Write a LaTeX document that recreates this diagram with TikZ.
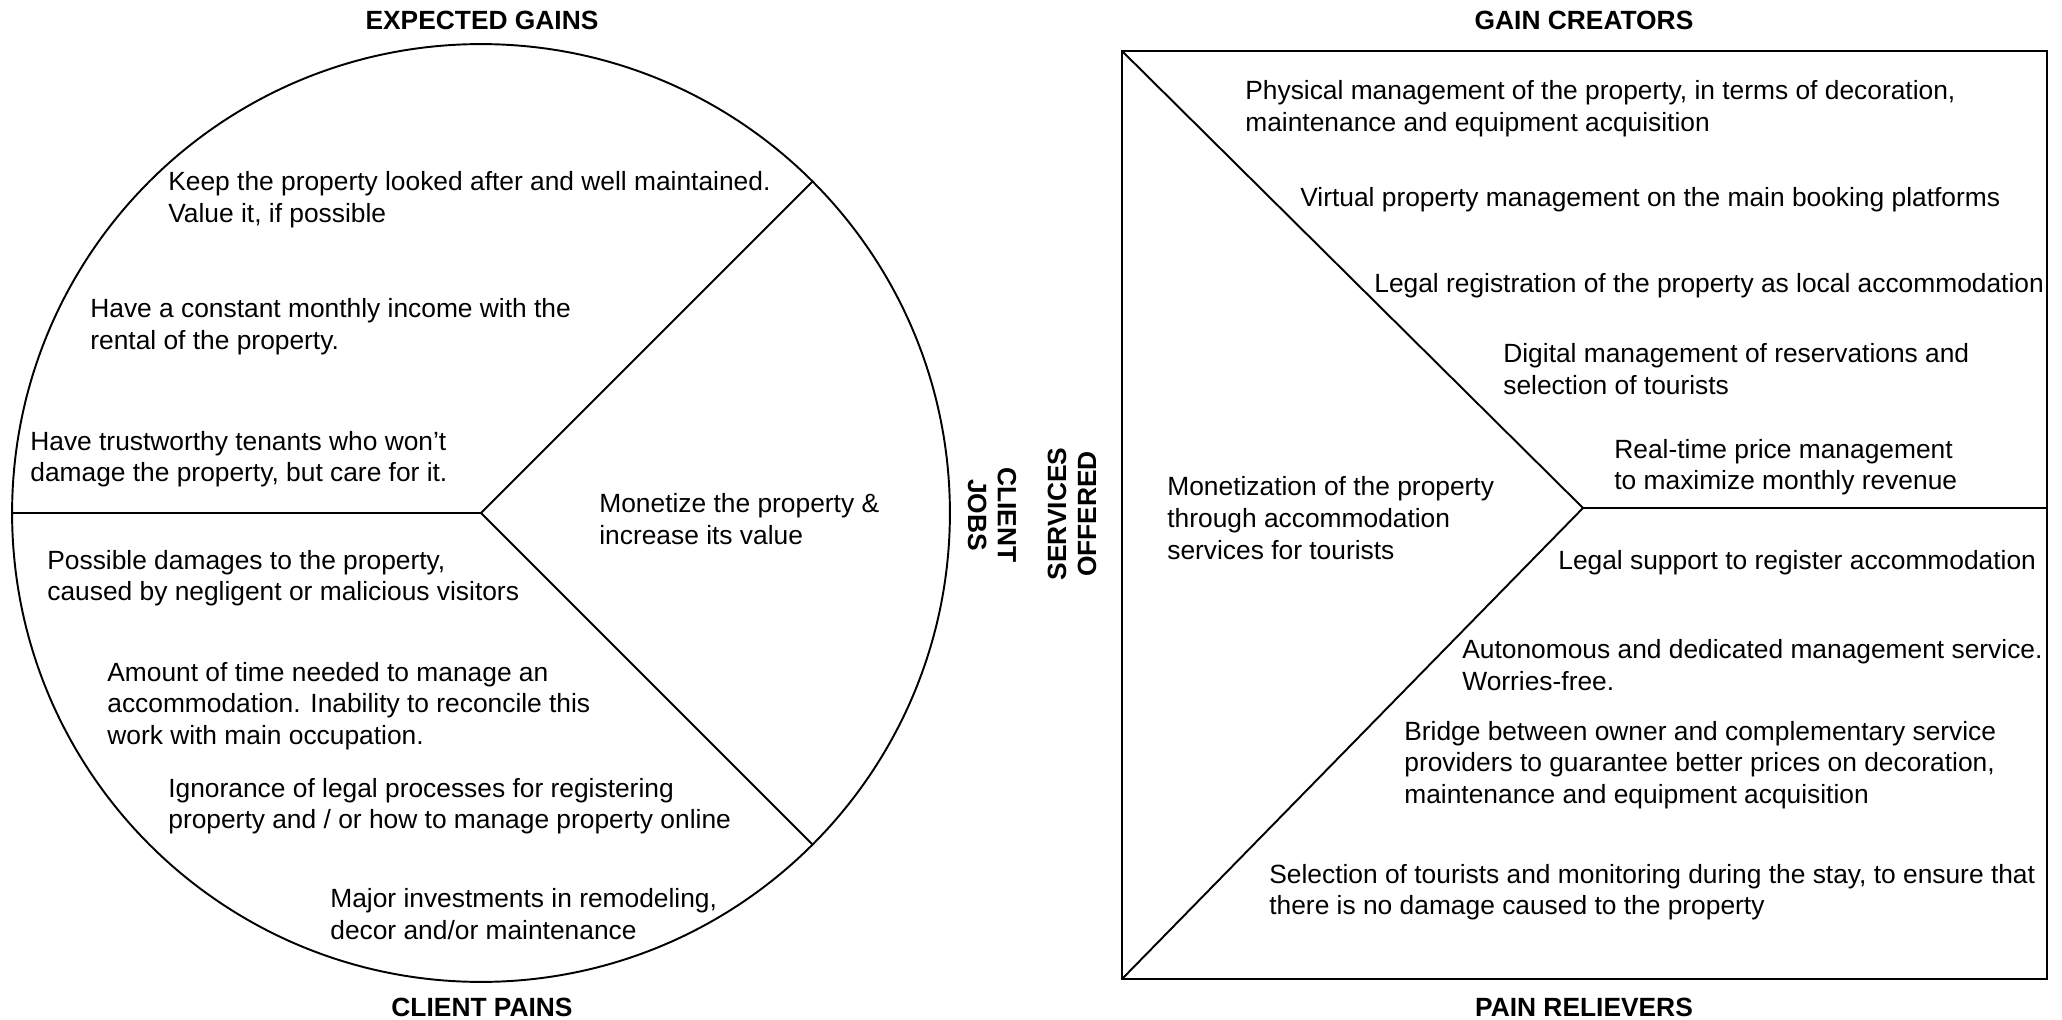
\documentclass[tikz,border=0pt]{standalone}
\usepackage{fontspec}
\setmainfont{Liberation Sans}
\usetikzlibrary{positioning}

\begin{document}
\begin{tikzpicture}[x=0.02cm,y=-0.02cm,
	txt/.style={anchor=west,align=left,inner sep=0pt,font=\fontsize{15}{18}\selectfont},
	heading/.style={inner sep=0pt,align=center,font=\fontsize{15}{17}\selectfont\bfseries},
	part/.style={draw=black,line width=1.1pt}]
	\useasboundingbox (0,0) rectangle (2062,1020);

	% customer profile
	\node[part,circle,minimum size=18.76cm,outer sep=0pt] (pie) at (481,513) {};
	\draw[part] (pie.center) -- (pie.45);
	\draw[part] (pie.center) -- (pie.-45);
	\draw[part] (pie.center) -- (pie.180);

	\node[heading] (gains) at (482,20)  {EXPECTED GAINS};
	\node[heading] (pains) at (482,1007) {CLIENT PAINS};
	\node[heading,rotate=-90] (jobs) at (992,515) {CLIENT\\JOBS};

	\node[txt] (g1) at (168,200) {Keep the property looked after and well maintained.\\Value it, if possible};
	\node[txt] (g2) at (90,327)  {Have a constant monthly income with the\\rental of the property.};
	\node[txt] (g3) at (30,459)  {Have trustworthy tenants who won’t\\damage the property, but care for it.};
	\node[txt] (j1) at (599,519) {Monetize the property \&\\increase its value};
	\node[txt] (p1) at (47,578)  {Possible damages to the property,\\caused by negligent or malicious visitors};
	\node[txt] (p2) at (107,706) {Amount of time needed to manage an\\accommodation. Inability to reconcile this\\work with main occupation.};
	\node[txt] (p3) at (168,806) {Ignorance of legal processes for registering\\property and / or how to manage property online};
	\node[txt] (p4) at (330,914) {Major investments in remodeling,\\decor and/or maintenance};

	% value map
	\node[part,rectangle,line width=1.5pt,minimum width=18.5cm,minimum height=18.56cm,outer sep=0pt] (box) at (1584.5,515) {};
	\coordinate (tip) at (1583,508);
	\draw[part] (box.north west) -- (tip) -- (box.south west);
	\draw[part] (tip) -- (tip -| box.east);

	\node[heading] (creators) at (1584,20)   {GAIN CREATORS};
	\node[heading] (relievers) at (1584,1007) {PAIN RELIEVERS};
	\node[heading,rotate=90] (offered) at (1072,514) {SERVICES\\OFFERED};

	\node[txt] (c1) at (1245,109) {Physical management of the property, in terms of decoration,\\maintenance and equipment acquisition};
	\node[txt] (c2) at (1300,200) {Virtual property management on the main booking platforms};
	\node[txt] (c3) at (1374,286) {Legal registration of the property as local accommodation};
	\node[txt] (c4) at (1503,369) {Digital management of reservations and\\selection of tourists};
	\node[txt] (c5) at (1614,467) {Real-time price management\\to maximize monthly revenue};
	\node[txt] (s1) at (1167,518) {Monetization of the property\\through accommodation\\services for tourists};
	\node[txt] (r1) at (1558,563) {Legal support to register accommodation};
	\node[txt] (r2) at (1462,665) {Autonomous and dedicated management service.\\Worries-free.};
	\node[txt] (r3) at (1404,765) {Bridge between owner and complementary service\\providers to guarantee better prices on decoration,\\maintenance and equipment acquisition};
	\node[txt] (r4) at (1269,892) {Selection of tourists and monitoring during the stay, to ensure that\\there is no damage caused to the property};
\end{tikzpicture}
\end{document}
